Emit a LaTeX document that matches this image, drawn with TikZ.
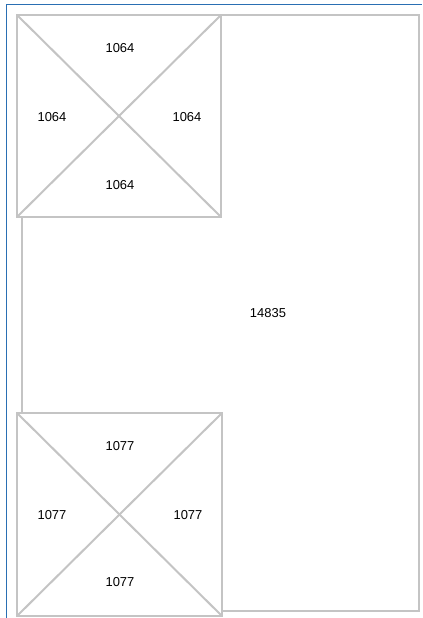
\documentclass[tikz,border=0pt]{standalone}
\usepackage{fontspec}
\setmainfont{Liberation Sans}
\usetikzlibrary{calc}

\definecolor{wallgray}{HTML}{C4C4C4}
\definecolor{edgeblue}{HTML}{2A6FB3}

\begin{document}
\begin{tikzpicture}[
  x=1bp,
  y=-1bp,
  line join=miter,
  wall/.style={draw=wallgray, line width=2bp},
  cell/.style={wall, fill=white, inner sep=0pt, outer sep=0pt},
  every node/.style={font=\fontsize{13}{15}\selectfont}
]

\useasboundingbox (0,0) rectangle (422,618);

% blue frame edge, top and left
\draw [edgeblue, line width=1bp] (6,618) -- (6,5) -- (422,5);

% outer room
\node [wall, inner sep=0pt, minimum width=397bp, minimum height=596bp]
  (room) at (220.5,313) {};
\node (roomlabel) at (268,313) {14835};

% top cell: white fill hides the room edge
\node [cell, minimum width=204bp, minimum height=202bp] (topcell) at (119,116) {};
\draw [wall] (topcell.north west) -- (topcell.south east);
\draw [wall] (topcell.south west) -- (topcell.north east);
\node (topN) at ($(topcell.center)+(1,-68)$) {1064};
\node (topW) at ($(topcell.center)+(-67,1)$) {1064};
\node (topE) at ($(topcell.center)+(68,1)$) {1064};
\node (topS) at ($(topcell.center)+(1,69)$) {1064};

% bottom cell
\node [cell, minimum width=205bp, minimum height=203bp] (botcell) at (119.5,514.5) {};
\draw [wall] (botcell.north west) -- (botcell.south east);
\draw [wall] (botcell.south west) -- (botcell.north east);
\node (botN) at ($(botcell.center)+(0.5,-68.5)$) {1077};
\node (botW) at ($(botcell.center)+(-67.5,0.5)$) {1077};
\node (botE) at ($(botcell.center)+(68.5,0.5)$) {1077};
\node (botS) at ($(botcell.center)+(0.5,67.5)$) {1077};

\end{tikzpicture}
\end{document}
